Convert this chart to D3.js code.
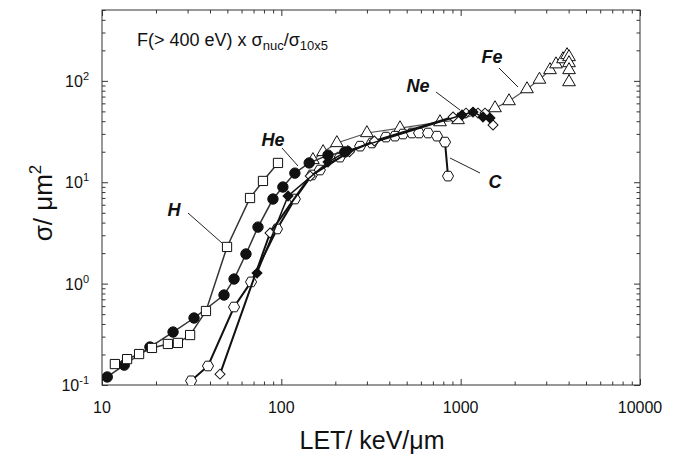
<!DOCTYPE html>
<html>
<head>
<meta charset="utf-8">
<script src="https://cdn.jsdelivr.net/npm/d3@7"></script>
<style>
  body { margin: 0; background: #fff; }
  svg { font-family: "Liberation Sans", Arial, Helvetica, sans-serif; }
</style>
</head>
<body>
<div id="chart"></div>
<script>
// LET (keV/um) and cross section (um^2)
var hLet = [11.8, 13.8, 16.1, 19.0, 23.3, 26.5, 31.0, 38.0, 49.8, 66.9, 79.0, 95.8];
var hSigma = [0.161, 0.180, 0.202, 0.232, 0.254, 0.260, 0.311, 0.537, 2.30, 6.99, 10.3, 15.5];

var heLet = [10.7, 13.3, 18.5, 24.9, 32.6, 47.9, 54.5, 63.5, 74.1, 89.8, 102, 119, 143, 182, 226];
var heSigma = [0.120, 0.157, 0.237, 0.333, 0.458, 0.772, 1.11, 1.96, 3.61, 6.83, 8.97, 12.3, 15.5, 18.5, 19.9];

var cLet = [31.4, 39.0, 54.5, 67.8, 94.6, 119, 148, 164, 212, 275, 320, 383, 430, 477, 535, 586, 658, 738, 818, 850];
var cSigma = [0.110, 0.154, 0.588, 1.04, 3.46, 6.83, 11.8, 13.2, 17.7, 22.7, 24.4, 27.9, 28.5, 29.9, 30.6, 30.6, 30.6, 28.5, 24.9, 11.5];

var neLet = [73.2, 109, 182, 235, 1017, 1172, 1332, 1457];
var neSigma = [1.27, 7.31, 15.8, 20.5, 46.0, 49.2, 44.0, 43.0];

var neOpenLet = [45.5, 86.5, 145, 240, 330, 907, 1071, 1249, 1367, 1515];
var neOpenSigma = [0.128, 3.16, 11.5, 20.0, 25.5, 44.0, 48.1, 48.1, 48.1, 36.7];

var feLet = [150, 171, 204, 300, 459, 767, 967, 1554, 1860, 2344, 2750, 3149, 3402, 3721, 3918, 4020, 4020, 4020, 4020];
var feSigma = [16.6, 19.9, 24.4, 30.6, 34.2, 39.2, 41.1, 53.9, 63.2, 83.0, 103, 128, 146, 164, 180, 172, 150, 128, 97.3];

var xMajor = [10, 100, 1000, 10000];
var yMajor = [0.1, 1, 10, 100];
var yExp = ["-1", "0", "1", "2"];

var width = 677, height = 464;
var svg = d3.select('#chart').append('svg').attr('width', width).attr('height', height);

var x = d3.scaleLog().domain([10, 10000]).range([102, 640]);
var y = d3.scaleLog().domain([0.1, 500]).range([385, 10]);

svg.append('clipPath').attr('id', 'plot').append('rect')
    .attr('x', 102).attr('y', 10).attr('width', 538).attr('height', 375);

// frame
svg.append('rect').attr('x', 102).attr('y', 10).attr('width', 538).attr('height', 375)
    .attr('fill', 'none').attr('stroke', '#333').attr('stroke-width', 1);

// inward ticks on all four sides
function ticks(axis, scale, len, vals, tr) {
    var g = svg.append('g').attr('transform', tr)
        .call(axis(scale).tickValues(vals).tickSize(-len).tickFormat(''));
    g.select('.domain').remove();
    g.selectAll('line').attr('stroke', '#333');
    return g;
}
var xMinor = x.ticks().filter(function (d) { return xMajor.indexOf(d) < 0; });
var yMinor = y.ticks().filter(function (d) { return yMajor.indexOf(d) < 0; });
ticks(d3.axisBottom, x, 6, xMajor, 'translate(0,385)');
ticks(d3.axisBottom, x, 3.5, xMinor, 'translate(0,385)');
ticks(d3.axisTop, x, 6, xMajor, 'translate(0,10)');
ticks(d3.axisTop, x, 3.5, xMinor, 'translate(0,10)');
ticks(d3.axisLeft, y, 6, yMajor, 'translate(102,0)');
ticks(d3.axisLeft, y, 3.5, yMinor, 'translate(102,0)');
ticks(d3.axisRight, y, 6, yMajor, 'translate(640,0)');
ticks(d3.axisRight, y, 3.5, yMinor, 'translate(640,0)');

// tick labels
svg.selectAll('.xl').data(xMajor).enter().append('text')
    .attr('x', function (d) { return x(d); }).attr('y', 413)
    .attr('text-anchor', 'middle').attr('font-size', 16).attr('fill', '#111')
    .text(function (d) { return d; });

var yl = svg.selectAll('.yl').data(yMajor).enter().append('text')
    .attr('x', 89).attr('y', function (d) { return y(d) + 6; })
    .attr('text-anchor', 'end').attr('font-size', 16).attr('fill', '#111');
yl.append('tspan').text('10');
yl.append('tspan').attr('dy', -7).attr('font-size', 11)
    .text(function (d, i) { return yExp[i]; });

// axis titles
svg.append('text').attr('x', 372).attr('y', 449).attr('text-anchor', 'middle')
    .attr('font-size', 25).attr('fill', '#111').text('LET/ keV/\u03bcm');
var yt = svg.append('text').attr('transform', 'translate(52,203) rotate(-90)')
    .attr('text-anchor', 'middle').attr('font-size', 26).attr('fill', '#111');
yt.append('tspan').text('\u03c3/ \u03bcm');
yt.append('tspan').attr('dy', -11).attr('font-size', 17).text('2');

// title
var tt = svg.append('text').attr('x', 137).attr('y', 46).attr('font-size', 18).attr('fill', '#111');
tt.append('tspan').attr('fill', '#111').text('F(> 400 eV) x \u03c3');
tt.append('tspan').attr('fill', '#111').attr('dy', 4).attr('font-size', 13).text('nuc');
tt.append('tspan').attr('fill', '#111').attr('dy', -4).text('/\u03c3');
tt.append('tspan').attr('fill', '#111').attr('dy', 4).attr('font-size', 13).text('10x5');

// hexagon symbol
var hexagon = {
    draw: function (ctx, size) {
        var r = Math.sqrt(size / 2.598);
        for (var i = 0; i < 6; i++) {
            var a = Math.PI / 3 * i;
            var px = r * Math.cos(a), py = r * Math.sin(a);
            if (i === 0) ctx.moveTo(px, py); else ctx.lineTo(px, py);
        }
        ctx.closePath();
    }
};

var plot = svg.append('g').attr('clip-path', 'url(#plot)');

function series(xs, ys, opt) {
    var pts = xs.map(function (d, i) { return [d, ys[i]]; });
    var line = d3.line().x(function (d) { return x(d[0]); }).y(function (d) { return y(d[1]); });
    plot.append('path').datum(pts).attr('d', line)
        .attr('fill', 'none').attr('stroke', opt.line).attr('stroke-width', opt.lw);
    plot.selectAll(null).data(pts).enter().append('path')
        .attr('transform', function (d) {
            return 'translate(' + x(d[0]) + ',' + y(d[1]) + ')' + (opt.rot ? ' rotate(45)' : '');
        })
        .attr('d', d3.symbol().type(opt.type).size(opt.size))
        .attr('fill', opt.fill).attr('stroke', '#111').attr('stroke-width', 1);
}

series(feLet, feSigma, { type: d3.symbolTriangle, size: 70, fill: '#fff', line: '#555', lw: 1.2 });
series(cLet, cSigma, { type: hexagon, size: 80, fill: '#fff', line: '#111', lw: 2 });
series(neOpenLet, neOpenSigma, { type: d3.symbolSquare, size: 50, fill: '#fff', line: '#111', lw: 2, rot: true });
series(neLet, neSigma, { type: d3.symbolSquare, size: 50, fill: '#111', line: '#111', lw: 1.5, rot: true });
series(heLet, heSigma, { type: d3.symbolCircle, size: 85, fill: '#111', line: '#333', lw: 1.5 });
series(hLet, hSigma, { type: d3.symbolSquare, size: 85, fill: '#fff', line: '#333', lw: 1.5 });

// labels with leader lines
var labels = [
    { t: 'H', x: 174, y: 216, l: [188, 213, 222, 243] },
    { t: 'He', x: 273, y: 146, l: [282, 148, 298, 166] },
    { t: 'Ne', x: 418, y: 92, l: [436, 92, 460, 110] },
    { t: 'Fe', x: 492, y: 63, l: [499, 68, 518, 87] },
    { t: 'C', x: 495, y: 188, l: [450, 158, 480, 173] }
];
labels.forEach(function (d) {
    svg.append('line').attr('x1', d.l[0]).attr('y1', d.l[1]).attr('x2', d.l[2]).attr('y2', d.l[3])
        .attr('stroke', '#222').attr('stroke-width', 1);
    svg.append('text').attr('x', d.x).attr('y', d.y).attr('text-anchor', 'middle')
        .attr('font-size', 18).attr('font-weight', 'bold').attr('font-style', 'italic')
        .attr('fill', '#111').text(d.t);
});
</script>
</body>
</html>
